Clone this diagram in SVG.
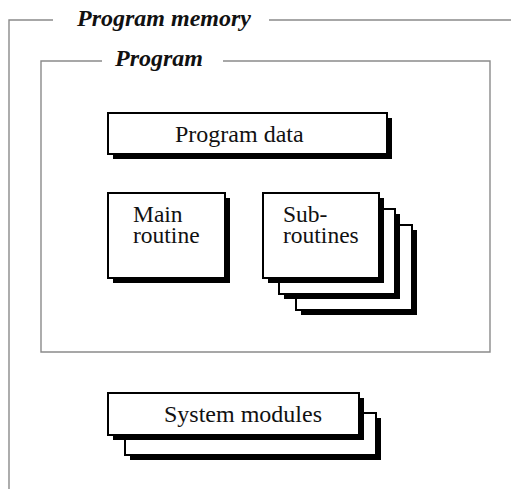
<svg xmlns="http://www.w3.org/2000/svg" width="511" height="489" viewBox="0 0 511 489">
  <style>
    .frame { fill: none; stroke: #8a8a8a; stroke-width: 1.4; }
    .title { font-family: "Liberation Serif", "Times New Roman", serif; font-size: 24px; font-weight: bold; font-style: italic; fill: #111; }
    .label { font-family: "Liberation Serif", "Times New Roman", serif; font-size: 24px; fill: #111; }
    .small { font-size: 23.5px; }
    .shadow { fill: #000; }
    .box { fill: #fff; stroke: #000; stroke-width: 2; }
  </style>
  <defs>
    <!-- a box with a drop shadow offset down and to the right -->
    <g id="cardSub">
      <rect class="shadow" x="5" y="5" width="116" height="85"/>
      <rect class="box" x="0" y="0" width="116" height="85"/>
    </g>
    <g id="cardSys">
      <rect class="shadow" x="5" y="5" width="251" height="42"/>
      <rect class="box" x="0" y="0" width="251" height="42"/>
    </g>
  </defs>

  <!-- Program memory frame -->
  <g id="program-memory">
    <path class="frame" d="M53,20 H9 V489 M269,20 H511"/>
    <text class="title" x="77" y="26">Program memory</text>
  </g>

  <!-- Program frame -->
  <g id="program">
    <path class="frame" d="M102,61 H41 V352 H490 V61 H223"/>
    <text class="title" x="115" y="66">Program</text>
  </g>

  <g id="program-data">
    <rect class="shadow" x="113" y="118" width="279" height="41"/>
    <rect class="box" x="108" y="113" width="279" height="41"/>
    <text class="label" x="175" y="142">Program data</text>
  </g>

  <g id="main-routine">
    <rect class="shadow" x="113" y="198" width="117" height="85"/>
    <rect class="box" x="108" y="193" width="117" height="85"/>
    <text class="label small" x="133" y="222">Main<tspan x="133" dy="21">routine</tspan></text>
  </g>

  <g id="subroutines">
    <use href="#cardSub" x="296" y="225"/>
    <use href="#cardSub" x="279" y="209"/>
    <use href="#cardSub" x="263" y="193"/>
    <text class="label small" x="283" y="222">Sub-<tspan x="283" dy="21">routines</tspan></text>
  </g>

  <g id="system-modules">
    <use href="#cardSys" x="125" y="413"/>
    <use href="#cardSys" x="108" y="393"/>
    <text class="label" x="164" y="422">System modules</text>
  </g>

  <g id="connectors"/>
</svg>
